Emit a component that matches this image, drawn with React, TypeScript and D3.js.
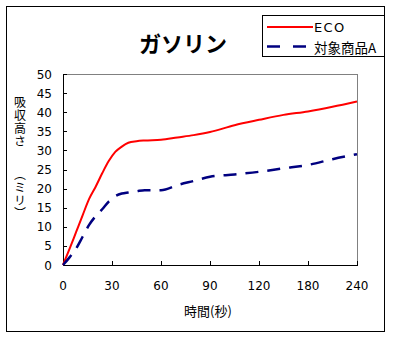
import React from "react";
import * as d3 from "d3";

const times = [0, 4, 8, 12, 16, 20, 24, 28, 32, 36, 40, 45, 50, 60, 70, 80, 90, 105, 120, 150, 180, 210, 240];
const ecoValues = [0, 4.2, 8.6, 13.0, 17.3, 20.5, 24.0, 27.2, 29.6, 31.0, 32.0, 32.4, 32.6, 32.8, 33.4, 34.0, 34.8, 36.6, 38.0, 39.3, 40.2, 41.4, 42.8];
const productAValues = [0, 2.0, 4.3, 7.4, 10.5, 12.8, 14.6, 16.6, 18.0, 18.7, 19.0, 19.3, 19.6, 19.6, 20.9, 22.0, 23.1, 23.7, 24.4, 25.3, 26.2, 27.7, 29.0];
const xTicks = [0, 30, 60, 90, 120, 180, 240];
const yTicks = [0, 5, 10, 15, 20, 25, 30, 35, 40, 45, 50];
const seriesNames = ["ECO", "対象商品A"];
const title = "ガソリン";
const xTitle = "時間(秒)";
const yTitle = "吸収高さ　　（ミリ）";

const W = 393, H = 337;
const L = 63, R = 357, T = 74, B = 265;
const NUM_FONT = "'DejaVu Sans', 'Noto Sans CJK JP', sans-serif";
const JP_FONT = "'Noto Sans CJK JP', 'DejaVu Sans', sans-serif";

export default function App() {
  const step = (R - L) / (xTicks.length - 1);
  const x = d3.scaleLinear().domain(xTicks).range(xTicks.map((_, i) => L + i * step));
  const y = d3.scaleLinear().domain([0, 50]).range([B, T]);
  const line = d3.line<number>().x((_, i) => x(times[i])).y((d) => y(d)).curve(d3.curveMonotoneX);

  return (
    <svg width={W} height={H} style={{ position: "absolute", left: 0, top: 0, background: "#fff" }}>
      <rect x={0} y={0} width={W} height={H} fill="#fff" />
      <rect x={6.5} y={6.5} width={378} height={325} fill="#fff" stroke="#000" strokeWidth={1} />

      {/* title */}
      <text x={183} y={52} textAnchor="middle" fontFamily={JP_FONT} fontWeight="bold" fontSize={22} fill="#000">{title}</text>

      {/* plot frame */}
      <line x1={L} x2={R} y1={T + 0.5} y2={T + 0.5} stroke="#808080" />
      <line x1={R + 0.5} x2={R + 0.5} y1={T} y2={B} stroke="#808080" />
      <line x1={L + 0.5} x2={L + 0.5} y1={T} y2={B + 1} stroke="#000" />
      <line x1={L} x2={R + 1} y1={B + 0.5} y2={B + 0.5} stroke="#000" />

      {/* y ticks */}
      {yTicks.map((v) => (
        <g key={"y" + v}>
          <line x1={L} x2={L + 4} y1={Math.round(y(v)) + 0.5} y2={Math.round(y(v)) + 0.5} stroke="#000" />
          <text x={52} y={y(v) + 4.5} textAnchor="end" fontFamily={NUM_FONT} fontSize={12} fill="#000">{v}</text>
        </g>
      ))}

      {/* x ticks */}
      {xTicks.map((v) => (
        <g key={"x" + v}>
          <line x1={Math.round(x(v)) + 0.5} x2={Math.round(x(v)) + 0.5} y1={B} y2={B - 4} stroke="#000" />
          <text x={x(v)} y={290} textAnchor="middle" fontFamily={NUM_FONT} fontSize={12} fill="#000">{v}</text>
        </g>
      ))}

      {/* axis titles */}
      <text x={208} y={316} textAnchor="middle" fontFamily={JP_FONT} fontSize={13} fill="#000">{xTitle}</text>
      <text
        x={20}
        y={96}
        fontFamily={JP_FONT}
        fontSize={12}
        letterSpacing={1}
        fill="#000"
        style={{ writingMode: "vertical-rl" }}
      >
        {yTitle}
      </text>

      {/* series */}
      <path d={line(ecoValues) || ""} fill="none" stroke="#ff0000" strokeWidth={2} />
      <path d={line(productAValues) || ""} fill="none" stroke="#000080" strokeWidth={2.5} strokeDasharray="13 9" />

      {/* legend */}
      <rect x={262.5} y={15.5} width={122} height={41} fill="#fff" stroke="#000" />
      <line x1={267} x2={313} y1={27} y2={27} stroke="#ff0000" strokeWidth={2} />
      <text x={314} y={32} fontFamily={NUM_FONT} fontSize={13} letterSpacing={1.3} fill="#000">{seriesNames[0]}</text>
      <line x1={267} x2={310} y1={46.5} y2={46.5} stroke="#000080" strokeWidth={2.5} strokeDasharray="13 13" />
      <text x={314} y={52.5} fontFamily={JP_FONT} fontSize={13.5} fill="#000">{seriesNames[1]}</text>
    </svg>
  );
}
